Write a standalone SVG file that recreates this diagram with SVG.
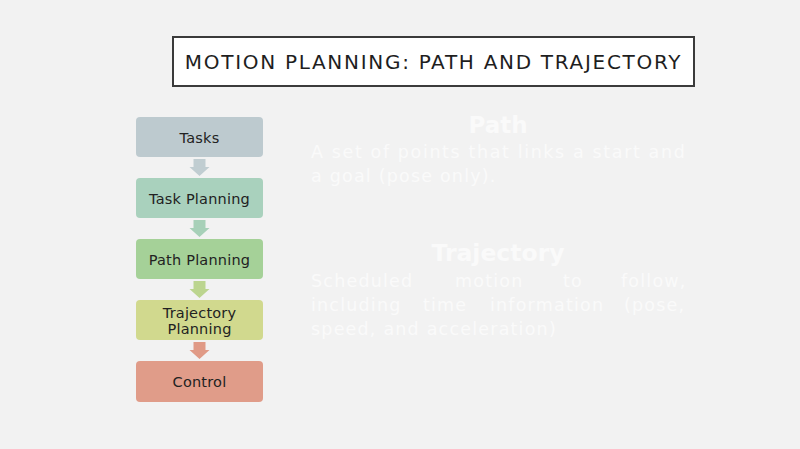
<svg xmlns="http://www.w3.org/2000/svg" width="800" height="449" viewBox="0 0 800 449">
<style>
.bg{fill:#f2f2f2}
.node{stroke:none}
.nt{font-family:"DejaVu Sans",sans-serif;font-size:14.5px;fill:#222;text-anchor:middle;letter-spacing:0.2px}
.wt{font-family:"DejaVu Sans",sans-serif;font-size:17.5px;fill:#fafafa;letter-spacing:1.2px}
.wh{font-family:"DejaVu Sans",sans-serif;font-weight:bold;fill:#fafafa;text-anchor:middle}
</style>
<defs>
<path id="arr" d="M-6,0 H6 V8 H10 L0,17 L-10,8 H-6 Z"/>
</defs>
<rect class="bg" x="0" y="0" width="800" height="449"/>
<g id="title">
<rect x="173" y="37" width="521" height="49" fill="#ffffff" stroke="#3b3b3b" stroke-width="2"/>
<text x="433.5" y="69" text-anchor="middle" font-family="DejaVu Sans, sans-serif" font-size="20" letter-spacing="1.7" fill="#1e1e1e">MOTION PLANNING: PATH AND TRAJECTORY</text>
</g>
<g id="connectors">
<use href="#arr" x="199.5" y="159" fill="#c0cdd1"/>
<use href="#arr" x="199.5" y="220" fill="#a7d0b8"/>
<use href="#arr" x="199.5" y="281" fill="#bcd58f"/>
<use href="#arr" x="199.5" y="342" fill="#e09a86"/>
</g>
<g id="n-tasks">
<rect class="node" x="136" y="117" width="127" height="40" rx="4" fill="#bdcacf"/>
<text class="nt" x="199.5" y="143">Tasks</text>
</g>
<g id="n-taskplanning">
<rect class="node" x="136" y="178" width="127" height="40" rx="4" fill="#a9d1bd"/>
<text class="nt" x="199.5" y="204">Task Planning</text>
</g>
<g id="n-pathplanning">
<rect class="node" x="136" y="239" width="127" height="40" rx="4" fill="#a5d198"/>
<text class="nt" x="199.5" y="265">Path Planning</text>
</g>
<g id="n-trajplanning">
<rect class="node" x="136" y="300" width="127" height="40" rx="4" fill="#d1d98e"/>
<text class="nt" x="199.5" y="318">Trajectory</text>
<text class="nt" x="199.5" y="334">Planning</text>
</g>
<g id="n-control">
<rect class="node" x="136" y="361" width="127" height="41" rx="4" fill="#e09c89"/>
<text class="nt" x="199.5" y="387">Control</text>
</g>
<g id="path-text">
<text class="wh" x="498" y="133" font-size="23">Path</text>
<text class="wt" x="311" y="158" textLength="375" lengthAdjust="spacing">A set of points that links a start and</text>
<text class="wt" x="311" y="182">a goal (pose only).</text>
</g>
<g id="traj-text">
<text class="wh" x="498" y="261" font-size="23.5">Trajectory</text>
<text class="wt" y="287"><tspan x="311">Scheduled</tspan><tspan x="455">motion</tspan><tspan x="563">to</tspan><tspan x="621">follow,</tspan></text>
<text class="wt" y="311"><tspan x="311">including</tspan><tspan x="423">time</tspan><tspan x="490">information</tspan><tspan x="624">(pose,</tspan></text>
<text class="wt" x="311" y="335">speed, and acceleration)</text>
</g>
</svg>
